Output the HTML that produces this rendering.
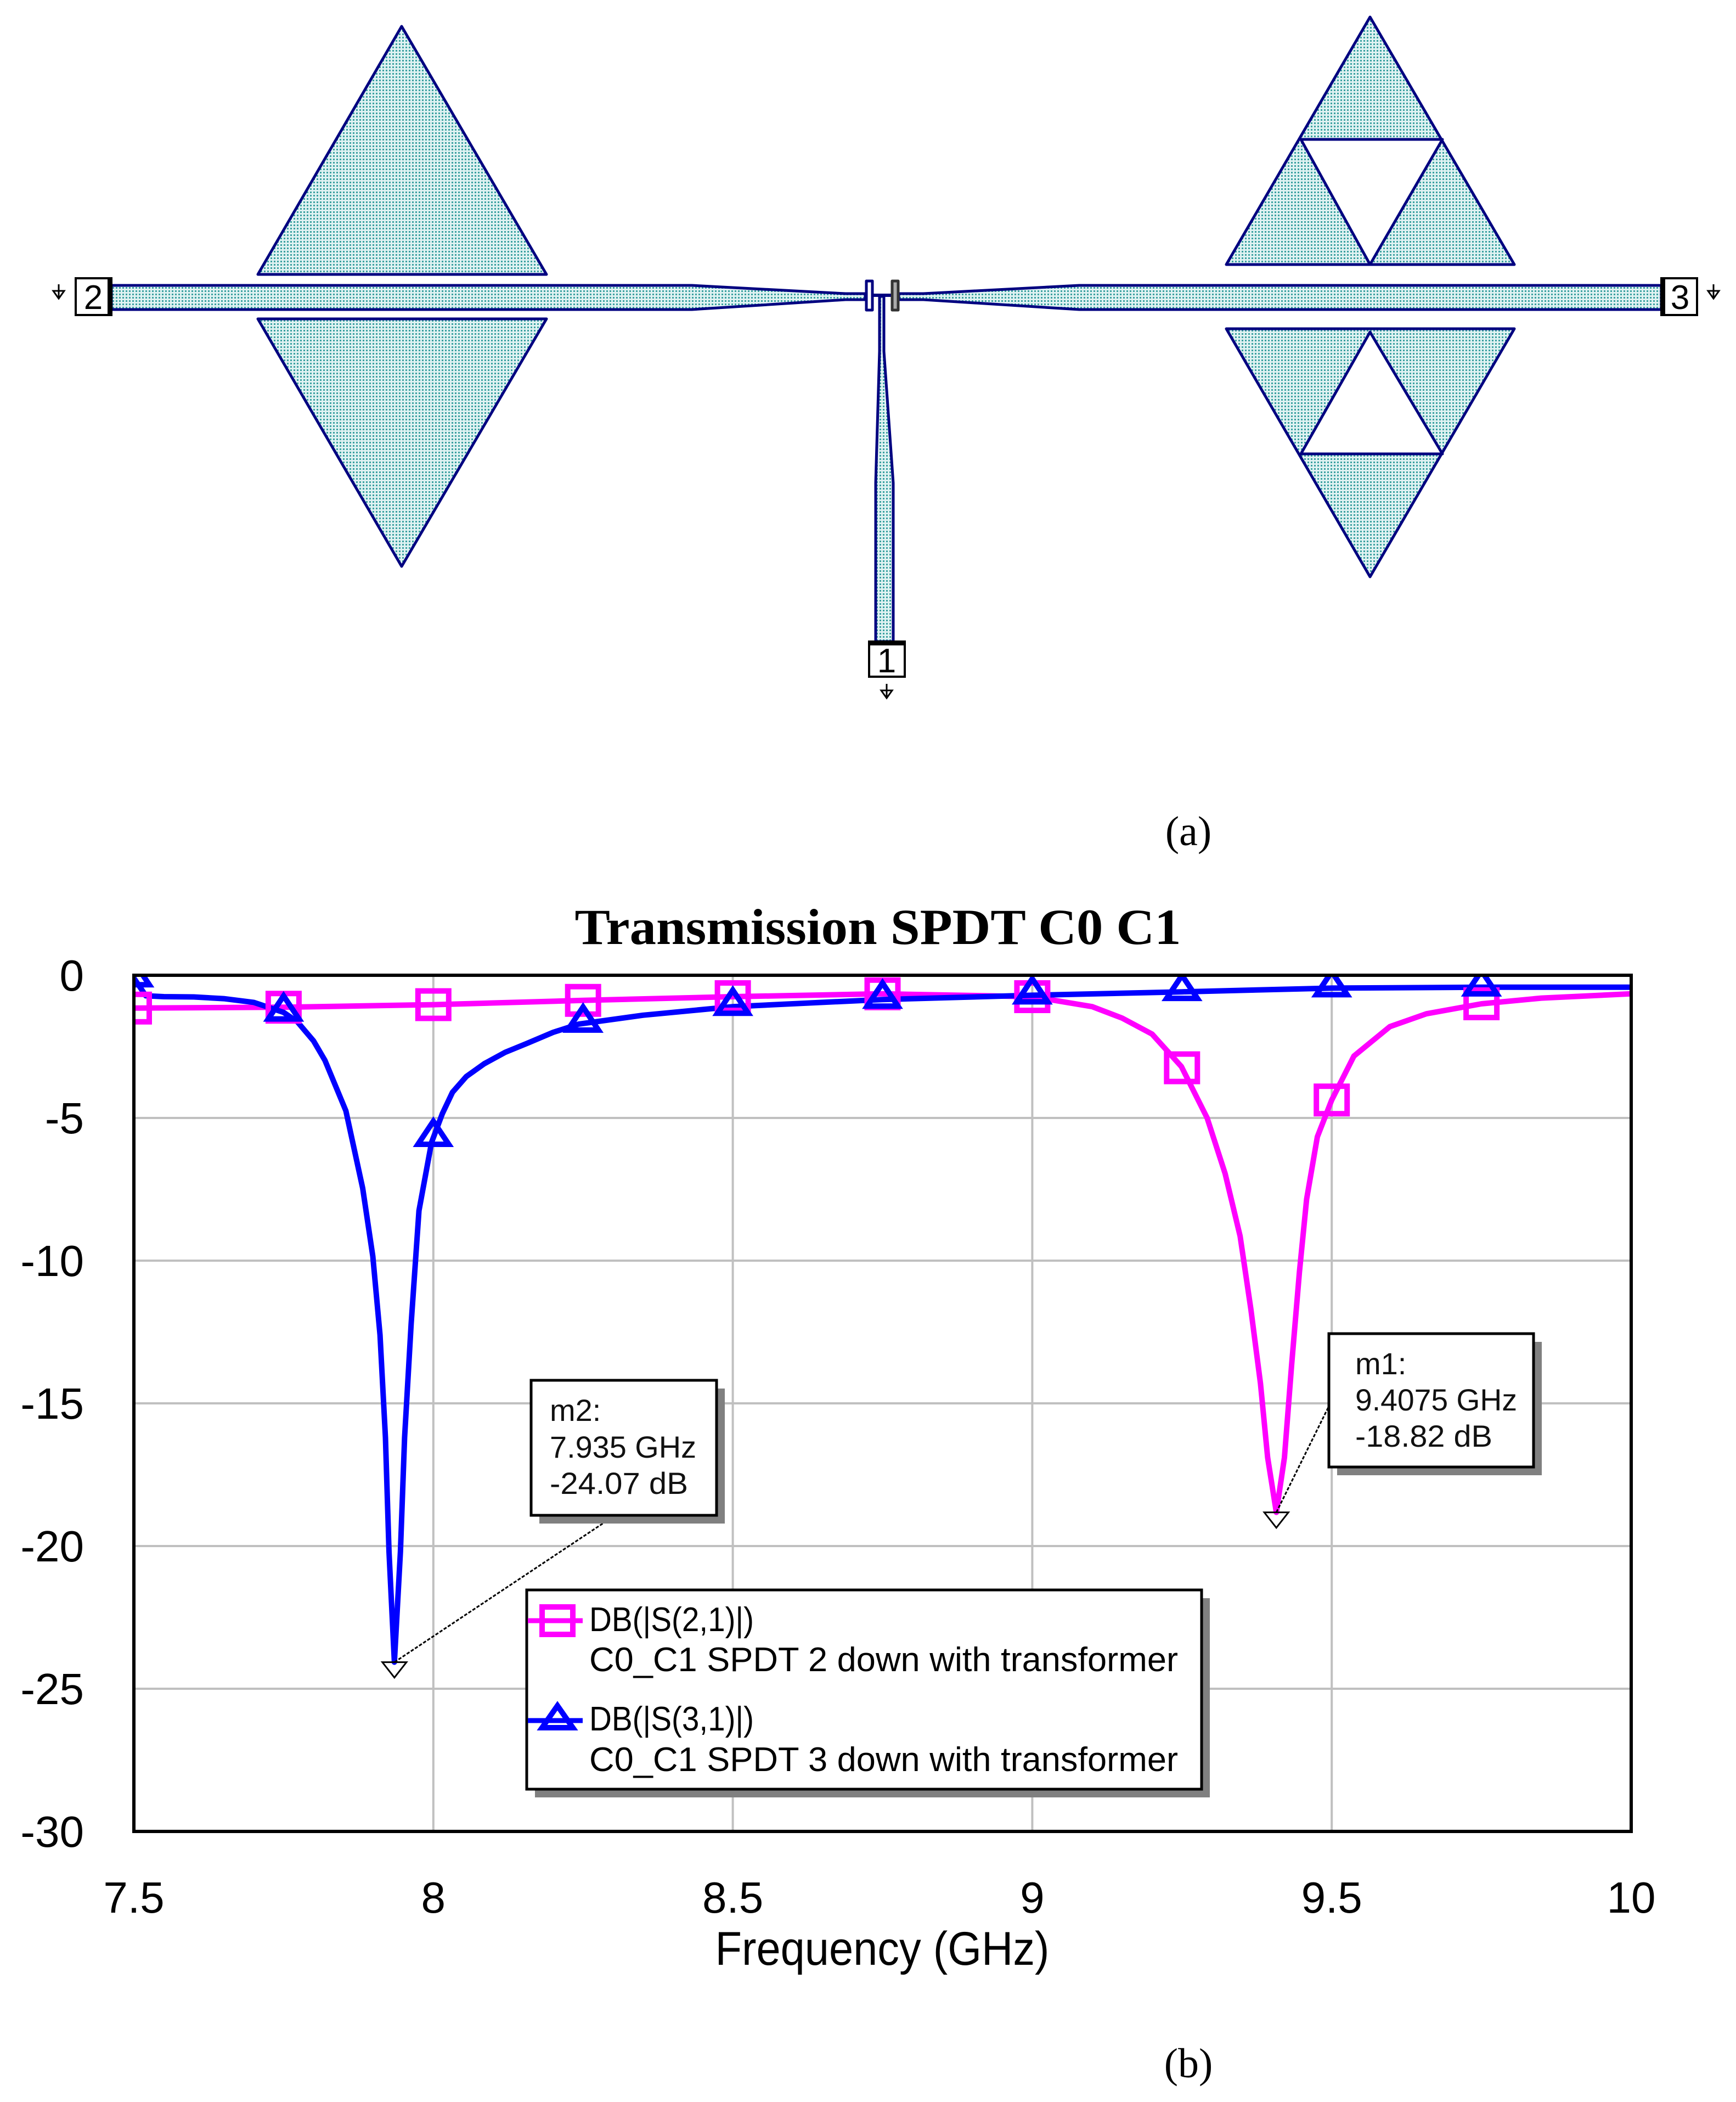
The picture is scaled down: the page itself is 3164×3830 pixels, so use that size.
<!DOCTYPE html>
<html><head><meta charset="utf-8">
<style>
html,body{margin:0;padding:0;background:#fff;}
svg{display:block;}
text{font-family:"Liberation Sans",sans-serif;}
text.serif{font-family:"Liberation Serif",serif;}
</style></head>
<body>
<svg id="fig" width="3164" height="3830" viewBox="0 0 3164 3830" xmlns="http://www.w3.org/2000/svg">
<defs>
<pattern id="dots" width="6" height="6" patternUnits="userSpaceOnUse">
<rect width="6" height="6" fill="#dff2f2"/>
<rect x="1" y="1" width="3" height="3" fill="#3aa0a0"/>
</pattern>
<clipPath id="plotclip"><rect x="244" y="1777" width="2729" height="1560"/></clipPath>
</defs>

<!-- (a) layout -->
<g stroke="#000080" stroke-width="5" fill="url(#dots)" stroke-linejoin="round">
<polygon points="732,48 996,500 470,500"/>
<polygon points="470,581 996,581 732,1032"/>
<polygon points="2497,31 2760,482 2235,482"/>
<polygon fill="#fff" points="2371,254 2629,254 2497,482"/>
<polygon points="2235,599 2760,599 2497,1051"/>
<polygon fill="#fff" points="2497,605 2629,827 2371,827"/>
<polygon points="203,520 1261,520 1541,535 1577,535 1577,546 1541,546 1261,564 203,564"/>
<polygon points="1638,535 1683,535 1967,520 3028,520 3028,564 1967,564 1683,546 1638,546"/>
<polygon points="1603,540 1611,540 1611,640 1628,880 1628,1169 1596,1169 1596,880 1603,640"/>
<line x1="1590" y1="538" x2="1625" y2="538" stroke-width="6"/>
<rect x="1579" y="512" width="11" height="53" fill="#fff" stroke-width="5"/>
<rect x="1626" y="512" width="11" height="53" fill="#aaa" stroke="#333" stroke-width="5"/>
</g>
<g font-size="62" fill="#000">
<rect x="138" y="507" width="65" height="67" fill="#fff" stroke="#000" stroke-width="4"/>
<rect x="196" y="507" width="7" height="67" fill="#000"/>
<text x="170" y="563" text-anchor="middle">2</text>
<rect x="3028" y="507" width="65" height="67" fill="#fff" stroke="#000" stroke-width="4"/>
<rect x="3028" y="507" width="7" height="67" fill="#000"/>
<text x="3062" y="563" text-anchor="middle">3</text>
<rect x="1584" y="1169" width="65" height="64" fill="#fff" stroke="#000" stroke-width="4"/>
<rect x="1584" y="1169" width="65" height="7" fill="#000"/>
<text x="1616" y="1225" text-anchor="middle">1</text>
<g stroke="#000" stroke-width="3" fill="none">
<path d="M107,518 v24 M97,530 h20 l-10,14 z"/>
<path d="M3123,518 v24 M3113,530 h20 l-10,14 z"/>
<path d="M1616,1246 v24 M1606,1258 h20 l-10,14 z"/>
</g>
</g>
<text class="serif" x="2166" y="1540" text-anchor="middle" font-size="76">(a)</text>

<!-- (b) chart -->
<text class="serif" x="1600" y="1720" text-anchor="middle" font-weight="bold" font-size="92" textLength="1105" lengthAdjust="spacingAndGlyphs">Transmission SPDT C0 C1</text>
<g id="grid"></g>
<g id="series" clip-path="url(#plotclip)"></g>
<rect x="244" y="1777" width="2729" height="1560" fill="none" stroke="#000" stroke-width="6"/>
<g id="ticks" font-size="80"></g>
<text x="1608" y="3580" text-anchor="middle" font-size="86" textLength="609" lengthAdjust="spacingAndGlyphs">Frequency (GHz)</text>

<g id="markers"></g>

<!-- marker boxes -->
<g>
<rect x="983" y="2530" width="338" height="246" fill="#808080"/>
<rect x="968" y="2515" width="338" height="246" fill="#fff" stroke="#000" stroke-width="5"/>
<text x="1002" y="2589" font-size="56" fill="#111">m2:</text>
<text x="1002" y="2656" font-size="56" fill="#111" textLength="267" lengthAdjust="spacingAndGlyphs">7.935 GHz</text>
<text x="1002" y="2722" font-size="56" fill="#111" textLength="252" lengthAdjust="spacingAndGlyphs">-24.07 dB</text>
</g>
<g>
<rect x="2437" y="2445" width="373" height="243" fill="#808080"/>
<rect x="2422" y="2430" width="373" height="243" fill="#fff" stroke="#000" stroke-width="5"/>
<text x="2470" y="2504" font-size="56" fill="#111">m1:</text>
<text x="2470" y="2570" font-size="56" fill="#111" textLength="295" lengthAdjust="spacingAndGlyphs">9.4075 GHz</text>
<text x="2470" y="2636" font-size="56" fill="#111" textLength="250" lengthAdjust="spacingAndGlyphs">-18.82 dB</text>
</g>

<!-- legend -->
<g>
<rect x="975" y="2912" width="1230" height="363" fill="#808080"/>
<rect x="960" y="2897" width="1230" height="363" fill="#fff" stroke="#000" stroke-width="5"/>
<g>
<line x1="962" y1="2953" x2="1062" y2="2953" stroke="#ff00ff" stroke-width="9"/>
<rect x="988" y="2928" width="56" height="50" fill="none" stroke="#ff00ff" stroke-width="10"/>
<text x="1074" y="2972" font-size="62" textLength="300" lengthAdjust="spacingAndGlyphs">DB(|S(2,1)|)</text>
<text x="1074" y="3045" font-size="62" textLength="1073" lengthAdjust="spacingAndGlyphs">C0_C1 SPDT 2 down with transformer</text>
</g>
<g>
<line x1="962" y1="3135" x2="1062" y2="3135" stroke="#0000ff" stroke-width="9"/>
<polygon points="1016,3108 1044,3148 988,3148" fill="none" stroke="#0000ff" stroke-width="10"/>
<text x="1074" y="3153" font-size="62" textLength="300" lengthAdjust="spacingAndGlyphs">DB(|S(3,1)|)</text>
<text x="1074" y="3227" font-size="62" textLength="1073" lengthAdjust="spacingAndGlyphs">C0_C1 SPDT 3 down with transformer</text>
</g>
</g>
<text class="serif" x="2166" y="3785" text-anchor="middle" font-size="76">(b)</text>
</svg>

<script>
const xTicks = [7.5, 8, 8.5, 9, 9.5, 10];
const xTickLabels = ["7.5", "8", "8.5", "9", "9.5", "10"];
const yTicks = [0, -5, -10, -15, -20, -25, -30];
const yTickLabels = ["0", "-5", "-10", "-15", "-20", "-25", "-30"];
const s21Freq = [7.5,7.75,8.0,8.25,8.5,8.75,9.0,9.1,9.15,9.2,9.249,9.292,9.322,9.347,9.365,9.381,9.393,9.4075,9.421,9.433,9.446,9.458,9.476,9.5,9.537,9.597,9.658,9.75,9.85,10];
const s21Db = [-1.15,-1.12,-1.03,-0.88,-0.75,-0.65,-0.75,-1.1,-1.5,-2.06,-3.2,-5.0,-6.95,-9.14,-11.7,-14.3,-16.9,-18.82,-16.9,-13.65,-10.4,-7.85,-5.66,-4.37,-2.83,-1.8,-1.35,-1.0,-0.8,-0.65];
const s31Freq = [7.5,7.52,7.55,7.6,7.65,7.7,7.75,7.773,7.8,7.819,7.854,7.882,7.899,7.911,7.92,7.926,7.935,7.945,7.952,7.963,7.976,7.997,8.015,8.032,8.055,8.085,8.12,8.155,8.2,8.243,8.35,8.5,8.75,9.0,9.25,9.5,9.75,10];
const s31Db = [-0.1,-0.72,-0.75,-0.76,-0.82,-0.95,-1.3,-1.63,-2.3,-2.98,-4.75,-7.46,-9.85,-12.6,-16.2,-20.2,-24.07,-20.2,-16.2,-12.2,-8.25,-5.86,-4.85,-4.1,-3.55,-3.1,-2.7,-2.4,-2.0,-1.71,-1.4,-1.1,-0.85,-0.7,-0.58,-0.45,-0.42,-0.42];
const symbolFreqs = [7.5,7.75,8.0,8.25,8.5,8.75,9.0,9.25,9.5,9.75];
const markerFreq = [7.935, 9.4075];
const markerDb = [-24.07, -18.82];

const X0=244, X1=2973, Y0=1777, Y1=3337;
const xs = f => X0 + (f-7.5)/(10-7.5)*(X1-X0);
const ys = v => Y0 + (0-v)/30*(Y1-Y0);
const NS='http://www.w3.org/2000/svg';
function mk(tag, parent){const e=document.createElementNS(NS,tag);parent.appendChild(e);return e;}
function interp(F,V,f){for(let i=0;i<F.length-1;i++){if(f>=F[i]&&f<=F[i+1]){const t=(f-F[i])/(F[i+1]-F[i]);return V[i]+t*(V[i+1]-V[i]);}}return V[V.length-1];}

const grid=document.getElementById('grid');
xTicks.forEach((t,i)=>{ if(i>0&&i<xTicks.length-1){const l=mk('line',grid);


l.setAttribute('x1',xs(t));l.setAttribute('x2',xs(t));l.setAttribute('y1',Y0);l.setAttribute('y2',Y1);l.setAttribute('stroke','#c0c0c0');l.setAttribute('stroke-width','4');}});
yTicks.forEach((t,i)=>{ if(i>0&&i<yTicks.length-1){const l=mk('line',grid);


l.setAttribute('x1',X0);l.setAttribute('x2',X1);l.setAttribute('y1',ys(t));l.setAttribute('y2',ys(t));l.setAttribute('stroke','#c0c0c0');l.setAttribute('stroke-width','4');}});

const ticks=document.getElementById('ticks');
xTicks.forEach((t,i)=>{const e=mk('text',ticks);


e.setAttribute('x',xs(t));e.setAttribute('y',3485);e.setAttribute('text-anchor','middle');e.textContent=xTickLabels[i];});
yTicks.forEach((t,i)=>{const e=mk('text',ticks);


e.setAttribute('x',153);e.setAttribute('y',ys(t)+28);e.setAttribute('text-anchor','end');e.textContent=yTickLabels[i];});

const ser=document.getElementById('series');
function drawLine(F,V,color,name){const p=mk('path',ser);


p.setAttribute('d',F.map((f,i)=>(i?'L':'M')+xs(f).toFixed(1)+','+ys(V[i]).toFixed(1)).join(''));
p.setAttribute('fill','none');p.setAttribute('stroke',color);p.setAttribute('stroke-width','10');p.setAttribute('stroke-linejoin','round');}
drawLine(s21Freq,s21Db,'#ff00ff','s21-line');
drawLine(s31Freq,s31Db,'#0000ff','s31-line');
symbolFreqs.forEach(f=>{const x=xs(f), y=ys(interp(s21Freq,s21Db,f));const r=mk('rect',ser);


r.setAttribute('x',x-28);r.setAttribute('y',y-25);r.setAttribute('width',56);r.setAttribute('height',50);r.setAttribute('fill','none');r.setAttribute('stroke','#ff00ff');r.setAttribute('stroke-width','10');});
symbolFreqs.forEach(f=>{const x=xs(f), y=ys(interp(s31Freq,s31Db,f));const t=mk('polygon',ser);


t.setAttribute('points',`${x},${y-30} ${x+28},${y+12} ${x-28},${y+12}`);t.setAttribute('fill','none');t.setAttribute('stroke','#0000ff');t.setAttribute('stroke-width','10');});

const mg=document.getElementById('markers');
const leaderEnds=[[1118,2763],[2425,2556]];
markerFreq.forEach((f,i)=>{const x=xs(f), y=ys(markerDb[i]);
const l=mk('line',mg);


l.setAttribute('x1',x);l.setAttribute('y1',y);l.setAttribute('x2',leaderEnds[i][0]);l.setAttribute('y2',leaderEnds[i][1]);l.setAttribute('stroke','#000');l.setAttribute('stroke-width','3');l.setAttribute('stroke-dasharray','6,3');
const t=mk('polygon',mg);


t.setAttribute('points',`${x-22},${y} ${x+22},${y} ${x},${y+28}`);t.setAttribute('fill','none');t.setAttribute('stroke','#000');t.setAttribute('stroke-width','3');});
</script>
</body></html>
